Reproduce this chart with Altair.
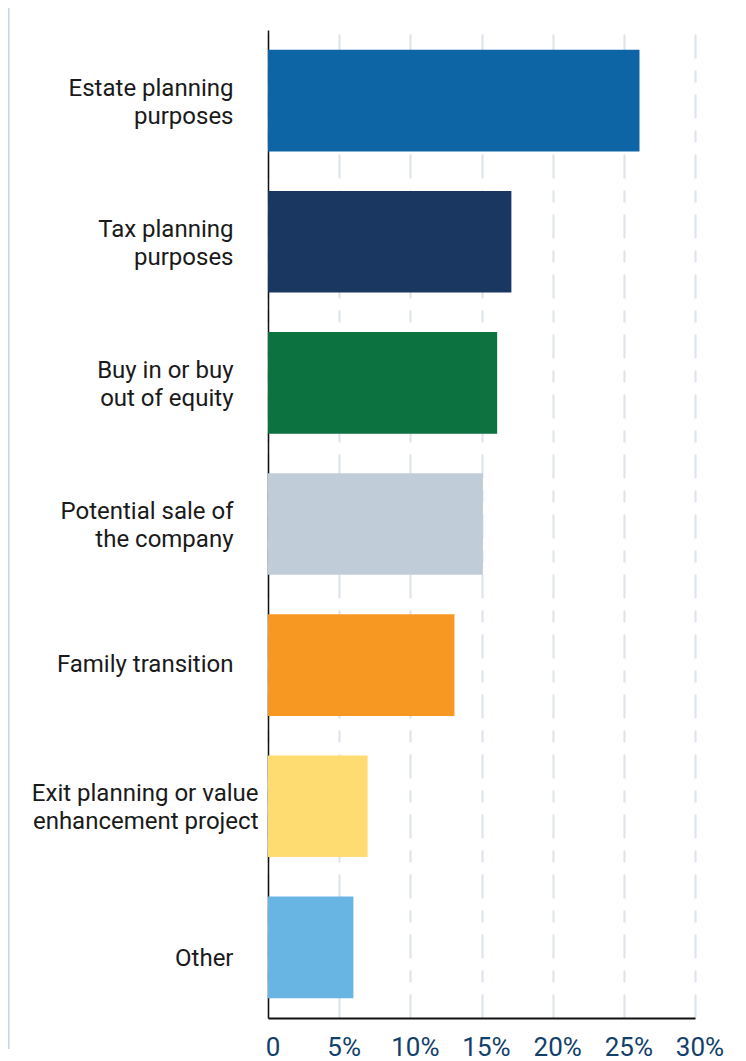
import altair as alt
import pandas as pd

categories = [
    "Estate planning|purposes",
    "Tax planning|purposes",
    "Buy in or buy|out of equity",
    "Potential sale of|the company",
    "Family transition",
    "Exit planning or value|enhancement project",
    "Other",
]
values = [26.1, 17.1, 16.1, 15.1, 13.1, 7.0, 6.0]
colors = ["#0e65a5", "#1a3761", "#0c723f", "#c0ccd8", "#f79823", "#fedc72", "#68b5e4"]
x_ticks = [0, 5, 10, 15, 20, 25, 30]

df = pd.DataFrame({"cat": categories, "val": values, "color": colors})

bars = alt.Chart(df).mark_bar().encode(
    x=alt.X(
        "val:Q",
        scale=alt.Scale(domain=[0, 30], nice=False),
        axis=alt.Axis(
            values=x_ticks,
            labelExpr="datum.value == 0 ? '0' : datum.value + '%'",
            labelFontSize=26,
            labelFont="Roboto",
            labelColor="#123f6b",
            labelPadding=16,
            labelOffset=4.5,
            labelFlush=False,
            ticks=False,
            domain=True,
            domainColor="#111111",
            domainWidth=2,
            grid=True,
            gridColor="#dde3ea",
            gridWidth=2,
            gridDash=[24, 12, 12, 12],
            title=None,
        ),
    ),
    y=alt.Y(
        "cat:N",
        sort=categories,
        scale=alt.Scale(paddingInner=0.28, paddingOuter=0.14),
        axis=alt.Axis(
            labelExpr="split(datum.label, '|')",
            labelFontSize=24,
            labelFont="Roboto",
            labelColor="#1a1a1a",
            labelLineHeight=28,
            labelPadding={"condition": {"test": "indexof(datum.label, 'Exit') >= 0", "value": 10}, "value": 35},
            labelLimit=400,
            labelOffset={"condition": {"test": "indexof(datum.label, '|') >= 0", "value": -12}, "value": 0},
            labelBaseline={"condition": {"test": "datum.label == 'Other'", "value": "top"}, "value": "middle"},
            ticks=False,
            domainColor="#111111",
            domainWidth=1.5,
            grid=False,
            title=None,
        ),
    ),
    color=alt.Color("color:N", scale=None, legend=None),
)

edge_df = pd.DataFrame({"px": [6]})
edge = alt.Chart(edge_df).mark_rule(color="#c8d4e4", strokeWidth=1.5).encode(
    x=alt.value(-259.2), y=alt.value(-22), y2=alt.value(1019)
)

chart = (
    alt.layer(bars, edge)
    .properties(width=427, height=988, padding={"left": 260, "top": 22, "right": 30, "bottom": 45}, autosize="none")
    .configure_view(stroke=None)
)

chart.save("out.html", embed_options={"renderer": "svg", "actions": False})
